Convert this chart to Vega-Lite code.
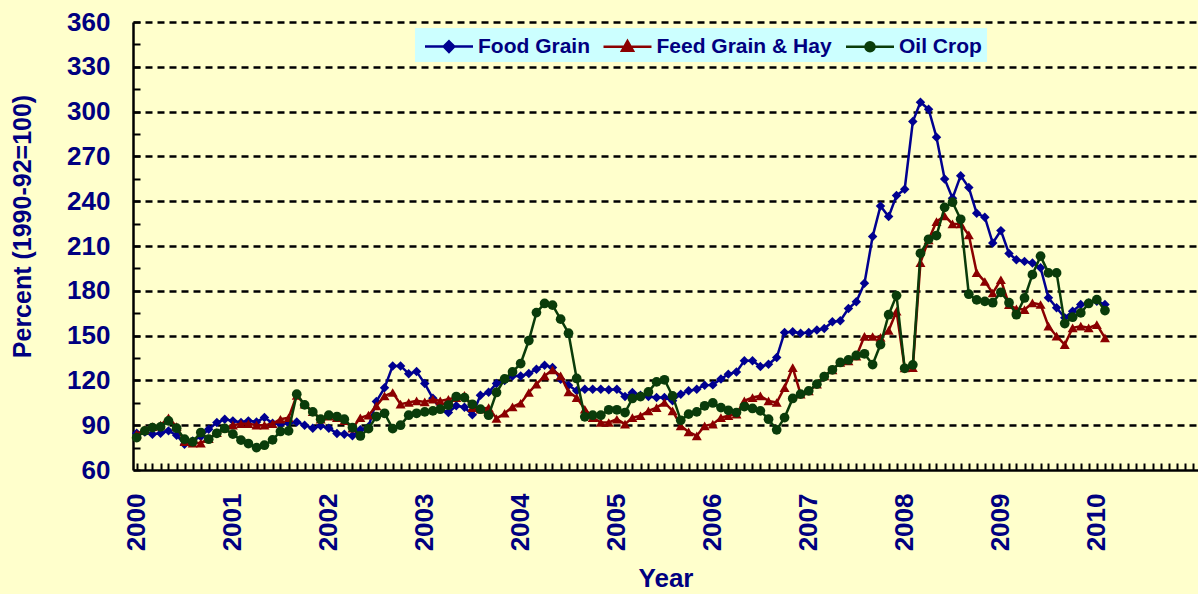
{
  "$schema": "https://vega.github.io/schema/vega-lite/v6.json",
  "autosize": {"type": "none"},
  "padding": {"left": 133, "top": 22, "right": 0, "bottom": 124},
  "width": 1065,
  "height": 448,
  "background": "#FFFFCC",
  "config": {"view": {"stroke": null}, "font": "Liberation Sans"},
  "data": {"values": [
    {"d":"2000-01-01","food":84.6,"feed":84,"oil":81.7},
    {"d":"2000-02-01","food":85.5,"feed":87,"oil":86.2},
    {"d":"2000-03-01","food":84,"feed":89,"oil":88.4},
    {"d":"2000-04-01","food":84.6,"feed":90,"oil":88.9},
    {"d":"2000-05-01","food":86.2,"feed":95,"oil":92.9},
    {"d":"2000-06-01","food":83.3,"feed":89,"oil":88},
    {"d":"2000-07-01","food":77.3,"feed":79,"oil":80.6},
    {"d":"2000-08-01","food":79.5,"feed":78,"oil":78.8},
    {"d":"2000-09-01","food":82.4,"feed":78,"oil":85.1},
    {"d":"2000-10-01","food":87.3,"feed":81,"oil":80.6},
    {"d":"2000-11-01","food":91.8,"feed":85,"oil":84.6},
    {"d":"2000-12-01","food":94,"feed":88,"oil":87.8},
    {"d":"2001-01-01","food":92.9,"feed":90,"oil":84},
    {"d":"2001-02-01","food":91.8,"feed":91,"oil":80},
    {"d":"2001-03-01","food":92.9,"feed":91,"oil":77.7},
    {"d":"2001-04-01","food":92.2,"feed":90,"oil":75},
    {"d":"2001-05-01","food":95.1,"feed":90,"oil":76.6},
    {"d":"2001-06-01","food":91.3,"feed":91,"oil":80.2},
    {"d":"2001-07-01","food":90.7,"feed":94,"oil":85.8},
    {"d":"2001-08-01","food":91.3,"feed":95,"oil":86.2},
    {"d":"2001-09-01","food":92.2,"feed":110,"oil":110.8},
    {"d":"2001-10-01","food":90,"feed":104,"oil":103.6},
    {"d":"2001-11-01","food":88,"feed":99,"oil":98.9},
    {"d":"2001-12-01","food":89.6,"feed":94,"oil":94},
    {"d":"2002-01-01","food":88,"feed":96,"oil":96.7},
    {"d":"2002-02-01","food":84.5,"feed":95,"oil":95.8},
    {"d":"2002-03-01","food":84,"feed":93,"oil":94},
    {"d":"2002-04-01","food":83,"feed":88,"oil":88.4},
    {"d":"2002-05-01","food":87,"feed":95,"oil":82.8},
    {"d":"2002-06-01","food":89,"feed":96.7,"oil":87.7},
    {"d":"2002-07-01","food":105.9,"feed":102.9,"oil":95.8},
    {"d":"2002-08-01","food":115,"feed":109.6,"oil":98},
    {"d":"2002-09-01","food":129.7,"feed":111.9,"oil":87.7},
    {"d":"2002-10-01","food":129.7,"feed":104.1,"oil":90},
    {"d":"2002-11-01","food":124.5,"feed":105.2,"oil":96.7},
    {"d":"2002-12-01","food":125.9,"feed":106.3,"oil":98},
    {"d":"2003-01-01","food":117.9,"feed":105.6,"oil":98.9},
    {"d":"2003-02-01","food":108,"feed":107.4,"oil":99.6},
    {"d":"2003-03-01","food":101,"feed":106.3,"oil":100.7},
    {"d":"2003-04-01","food":98.5,"feed":107.4,"oil":103.4},
    {"d":"2003-05-01","food":103,"feed":108.5,"oil":109.2},
    {"d":"2003-06-01","food":102,"feed":110,"oil":108.5},
    {"d":"2003-07-01","food":97,"feed":101.8,"oil":104},
    {"d":"2003-08-01","food":110,"feed":100.7,"oil":100.7},
    {"d":"2003-09-01","food":112,"feed":101.8,"oil":96.7},
    {"d":"2003-10-01","food":118,"feed":94.5,"oil":111.9},
    {"d":"2003-11-01","food":120,"feed":98,"oil":121},
    {"d":"2003-12-01","food":123,"feed":102.3,"oil":125.7},
    {"d":"2004-01-01","food":123,"feed":104.7,"oil":131.3},
    {"d":"2004-02-01","food":124.6,"feed":111.9,"oil":146.7},
    {"d":"2004-03-01","food":127.5,"feed":117.5,"oil":165.4},
    {"d":"2004-04-01","food":130.2,"feed":123,"oil":171.5},
    {"d":"2004-05-01","food":128.6,"feed":127.1,"oil":170.4},
    {"d":"2004-06-01","food":120.8,"feed":123,"oil":161},
    {"d":"2004-07-01","food":116.8,"feed":112.3,"oil":151.6},
    {"d":"2004-08-01","food":113,"feed":108.5,"oil":121.3},
    {"d":"2004-09-01","food":114.1,"feed":100.7,"oil":95.6},
    {"d":"2004-10-01","food":114.1,"feed":95.1,"oil":96.7},
    {"d":"2004-11-01","food":114.1,"feed":91.8,"oil":96.7},
    {"d":"2004-12-01","food":113.7,"feed":91.8,"oil":100.3},
    {"d":"2005-01-01","food":114.1,"feed":94,"oil":100.3},
    {"d":"2005-02-01","food":109.2,"feed":90.7,"oil":98.5},
    {"d":"2005-03-01","food":111.9,"feed":95.1,"oil":107.9},
    {"d":"2005-04-01","food":110.1,"feed":96.3,"oil":109.2},
    {"d":"2005-05-01","food":109.2,"feed":99.6,"oil":112.3},
    {"d":"2005-06-01","food":108.5,"feed":101.8,"oil":119},
    {"d":"2005-07-01","food":108.5,"feed":105.2,"oil":120.4},
    {"d":"2005-08-01","food":106.3,"feed":99.6,"oil":109.6},
    {"d":"2005-09-01","food":110.8,"feed":89.6,"oil":93.3},
    {"d":"2005-10-01","food":113,"feed":85.5,"oil":97.4},
    {"d":"2005-11-01","food":114.1,"feed":82.9,"oil":98.9},
    {"d":"2005-12-01","food":116.8,"feed":89.6,"oil":103},
    {"d":"2006-01-01","food":117,"feed":90.7,"oil":104.9},
    {"d":"2006-02-01","food":121,"feed":95.1,"oil":101.8},
    {"d":"2006-03-01","food":124.2,"feed":96.3,"oil":100},
    {"d":"2006-04-01","food":125.7,"feed":97.4,"oil":98.5},
    {"d":"2006-05-01","food":133.1,"feed":106.3,"oil":102.5},
    {"d":"2006-06-01","food":133.1,"feed":108.5,"oil":101.2},
    {"d":"2006-07-01","food":129.3,"feed":109.6,"oil":99.6},
    {"d":"2006-08-01","food":130.8,"feed":106.3,"oil":94},
    {"d":"2006-09-01","food":135.3,"feed":105.2,"oil":86.9},
    {"d":"2006-10-01","food":152.1,"feed":115.2,"oil":95.1},
    {"d":"2006-11-01","food":152.5,"feed":128.6,"oil":107.9},
    {"d":"2006-12-01","food":151.6,"feed":110.8,"oil":110.8},
    {"d":"2007-01-01","food":152.1,"feed":113,"oil":113},
    {"d":"2007-02-01","food":153.8,"feed":117.5,"oil":117.5},
    {"d":"2007-03-01","food":154.7,"feed":123,"oil":122.6},
    {"d":"2007-04-01","food":159.2,"feed":127.1,"oil":127.1},
    {"d":"2007-05-01","food":159.9,"feed":132,"oil":132},
    {"d":"2007-06-01","food":168.1,"feed":133.1,"oil":133.7},
    {"d":"2007-07-01","food":172.7,"feed":136.2,"oil":136.7},
    {"d":"2007-08-01","food":185,"feed":149.5,"oil":137.8},
    {"d":"2007-09-01","food":216.3,"feed":149.4,"oil":130.6},
    {"d":"2007-10-01","food":236.8,"feed":148.8,"oil":144},
    {"d":"2007-11-01","food":229.7,"feed":153.5,"oil":164},
    {"d":"2007-12-01","food":243.8,"feed":166.3,"oil":176.8},
    {"d":"2008-01-01","food":248,"feed":128.3,"oil":128.1},
    {"d":"2008-02-01","food":293.3,"feed":128.5,"oil":130.4},
    {"d":"2008-03-01","food":306.3,"feed":198.9,"oil":205.1},
    {"d":"2008-04-01","food":301.6,"feed":214.1,"oil":214.5},
    {"d":"2008-05-01","food":282.8,"feed":226.3,"oil":217},
    {"d":"2008-06-01","food":254.9,"feed":230.1,"oil":235.9},
    {"d":"2008-07-01","food":242,"feed":224.8,"oil":239.3},
    {"d":"2008-08-01","food":257.1,"feed":224.8,"oil":227.9},
    {"d":"2008-09-01","food":249.1,"feed":217.4,"oil":177.7},
    {"d":"2008-10-01","food":231.9,"feed":192.2,"oil":173.9},
    {"d":"2008-11-01","food":229.3,"feed":186.2,"oil":172.9},
    {"d":"2008-12-01","food":212,"feed":178.5,"oil":172},
    {"d":"2009-01-01","food":220.3,"feed":187.4,"oil":179},
    {"d":"2009-02-01","food":205,"feed":170.7,"oil":172},
    {"d":"2009-03-01","food":200.8,"feed":167.9,"oil":164},
    {"d":"2009-04-01","food":199.7,"feed":167.4,"oil":175.2},
    {"d":"2009-05-01","food":198.6,"feed":171.9,"oil":190.8},
    {"d":"2009-06-01","food":195.4,"feed":170.8,"oil":203.2},
    {"d":"2009-07-01","food":175.3,"feed":156.3,"oil":192},
    {"d":"2009-08-01","food":168.6,"feed":149.6,"oil":192},
    {"d":"2009-09-01","food":161.9,"feed":144,"oil":158.1},
    {"d":"2009-10-01","food":166.3,"feed":155.2,"oil":162.3},
    {"d":"2009-11-01","food":170.8,"feed":156.3,"oil":165.2},
    {"d":"2009-12-01","food":171.9,"feed":155.2,"oil":171.5},
    {"d":"2010-01-01","food":173,"feed":157.4,"oil":174.1},
    {"d":"2010-02-01","food":170.8,"feed":148.5,"oil":166.8}
  ]},
  "transform": [{"fold": ["food", "feed", "oil"], "as": ["series", "value"]}],
  "encoding": {
    "x": {
      "field": "d", "type": "temporal",
      "scale": {"type": "utc", "domain": [{"year": 1999, "month": 12, "date": 18, "utc": true}, {"year": 2011, "month": 1, "date": 21, "utc": true}]},
      "axis": {
        "title": "Year", "titleFont": "Liberation Sans", "titleFontSize": 26, "titleFontWeight": "bold", "titleColor": "#000080",
        "titleY": 108, "titleBaseline": "middle",
        "tickCount": {"interval": "month", "step": 1},
        "labelExpr": "utcmonth(datum.value) == 0 && utcyear(datum.value) < 2011 ? utcFormat(datum.value, '%Y') : ''",
        "labelAngle": 270, "labelAlign": "right", "labelBaseline": "middle",
        "labelPadding": 30, "labelFont": "Liberation Sans", "labelFontSize": 26, "labelFontWeight": "bold", "labelColor": "#000080",
        "labelOverlap": false, "labelFlush": false, "labelBound": false,
        "tickSize": -7, "tickColor": "black", "tickWidth": 2,
        "domainColor": "black", "domainWidth": 2.5, "grid": false
      }
    },
    "y": {
      "field": "value", "type": "quantitative",
      "scale": {"domain": [60, 360], "nice": false},
      "axis": {
        "values": [60, 75, 90, 105, 120, 135, 150, 165, 180, 195, 210, 225, 240, 255, 270, 285, 300, 315, 330, 345, 360],
        "labelExpr": "datum.value % 30 == 0 ? datum.label : ''",
        "labelPadding": 30, "labelFont": "Liberation Sans", "labelFontSize": 26, "labelFontWeight": "bold", "labelColor": "#000080",
        "labelOverlap": false, "labelFlush": false,
        "tickSize": -7, "tickColor": "black", "tickWidth": 2,
        "domainColor": "black", "domainWidth": 2.5,
        "grid": true, "gridColor": "black", "gridWidth": 2.5, "gridDash": [7, 5],
        "gridOpacity": {"condition": {"test": "datum.value % 30 == 0 && datum.value > 60", "value": 1}, "value": 0},
        "title": "Percent (1990-92=100)", "titleFont": "Liberation Sans", "titleFontSize": 25, "titleFontWeight": "bold", "titleColor": "#000080",
        "titleX": -111, "titleY": 204, "titleAngle": 270, "titleBaseline": "middle", "titleAlign": "center"
      }
    },
    "color": {
      "field": "series", "type": "nominal",
      "scale": {"domain": ["food", "feed", "oil"], "range": ["#000090", "#8B0000", "#0A3C0A"]},
      "legend": {
        "title": null, "orient": "none", "legendX": 282, "legendY": 6, "direction": "horizontal",
        "fillColor": "#CCFFFF", "padding": 5, "columnPadding": 8.5, "labelLimit": 400,
        "labelExpr": "datum.value === 'food' ? 'Food Grain' : datum.value === 'feed' ? 'Feed Grain & Hay' : 'Oil Crop'",
        "labelFont": "Liberation Sans", "labelFontSize": 21, "labelFontWeight": "bold", "labelColor": "#000080",
        "symbolSize": 576, "symbolStrokeWidth": 2.5, "symbolOffset": 15.5, "labelOffset": 15.5,
        "encode": {"symbols": {"update": {
          "shape": {"signal": "datum.value === 'food' ? 'M-2,0H2M0,-0.44L0.44,0L0,0.44L-0.44,0Z' : datum.value === 'feed' ? 'M-2,0H2M0,-0.48L0.46,0.34L-0.46,0.34Z' : 'M-2,0H2M0.38,0A0.38,0.38,0,1,1,-0.38,0A0.38,0.38,0,1,1,0.38,0Z'"},
          "fill": {"signal": "datum.value === 'food' ? '#000090' : datum.value === 'feed' ? '#8B0000' : '#0A3C0A'"},
          "stroke": {"signal": "datum.value === 'food' ? '#000090' : datum.value === 'feed' ? '#8B0000' : '#0A3C0A'"},
          "strokeWidth": {"value": 2.5},
          "opacity": {"value": 1}
        }}}
      }
    }
  },
  "layer": [
    {"transform": [{"filter": "datum.series === 'food'"}],
     "mark": {"type": "line", "strokeWidth": 2.5, "point": {"shape": "diamond", "size": 90, "filled": true, "opacity": 1}}},
    {"transform": [{"filter": "datum.series === 'feed'"}],
     "mark": {"type": "line", "strokeWidth": 2.5, "point": {"shape": "triangle-up", "size": 100, "filled": true, "opacity": 1}}},
    {"transform": [{"filter": "datum.series === 'oil'"}],
     "mark": {"type": "line", "strokeWidth": 2.5, "point": {"shape": "circle", "size": 95, "filled": true, "opacity": 1}}}
  ]
}
